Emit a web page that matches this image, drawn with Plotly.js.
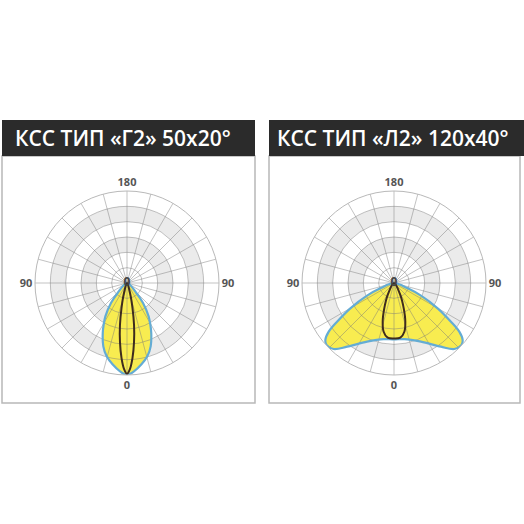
<!DOCTYPE html>
<html>
<head>
<meta charset="utf-8">
<script src="https://cdn.plot.ly/plotly-3.0.1.min.js"></script>
<style>
html,body{margin:0;padding:0;background:#fff;}
#chart{width:524px;height:524px;}
</style>
</head>
<body>
<div id="chart"></div>
<script>
// ---- data ----
var titles = ["КСС ТИП «Г2» 50x20°", "КСС ТИП «Л2» 120x40°"];
var angleTickVals = [0,15,30,45,60,75,90,105,120,135,150,165,180,195,210,225,240,255,270,285,300,315,330,345];
var angleTickText = ["0","","","","","","90","","","","","","180","","","","","","90","","","","",""];
var ringVals = [100,200,300,400,500];
var bandBase = [200,400];
var bandWidth = [100,100];

// Г2: plane C0 (yellow, wide) and C90 (brown, narrow)
var g2WideTheta = [-48,-43,-38.7,-33,-29,-25.9,-20.5,-15.5,-9.9,-4.5,0,4.5,9.9,15.5,20.5,25.9,29,33,38.7,43,48];
var g2WideR     = [0,89,167,259,315,362,441,496,540,578,600,578,540,496,441,362,315,259,167,89,0];
var g2NarrowTheta = [-22,-16.7,-12.4,-9.5,-6.8,-4.2,-2,0,2,4.2,6.8,9.5,12.4,16.7,22];
var g2NarrowR     = [0,68,167,278,387,490,561,593,561,490,387,278,167,68,0];

// Л2: plane C0 (yellow, wide batwing) and C90 (brown, narrow)
var l2WideTheta = [-73,-68.8,-64.8,-59.9,-55.8,-53.3,-50.3,-47.5,-42.4,-36.4,-24.7,-10.4,0,10.4,24.7,36.4,42.4,47.5,50.3,53.3,55.8,59.9,64.8,68.8,73];
var l2WideR     = [0,96,194,329,449,531,582,598,583,516,421,372,368,372,421,516,583,598,582,531,449,329,194,96,0];
var l2NarrowTheta = [-35,-27.8,-21,-16.3,-12,-6.6,0,6.6,12,16.3,21,27.8,35];
var l2NarrowR     = [0,89,177,263,325,359,362,359,325,263,177,89,0];

// ---- helpers (layout only) ----
var W = 524, H = 524;
function px(x){return x/W;}
function py(y){return 1 - y/H;}

var yellowFill = "rgb(248,236,80)";
var blueLine = "rgb(100,172,212)";
var brownLine = "rgb(62,44,30)";
var gridCol = "rgba(120,120,120,0.45)";

function bands(sub){
  return {type:"barpolar", subplot:sub, theta:[0,0], r:bandWidth, base:bandBase, width:[360,360],
    marker:{color:"#ebebeb", line:{width:0}}, hoverinfo:"skip", showlegend:false};
}
function fillTrace(sub, th, r){
  return {type:"scatterpolar", subplot:sub, theta:th, r:r, mode:"lines", fill:"toself",
    fillcolor:yellowFill, line:{width:0, shape:"spline", color:yellowFill}, hoverinfo:"skip", showlegend:false};
}
function lineTrace(sub, th, r, col, w){
  return {type:"scatterpolar", subplot:sub, theta:th, r:r, mode:"lines",
    line:{width:w, shape:"spline", color:col}, hoverinfo:"skip", showlegend:false};
}
function centerText(sub){
  return {type:"scatterpolar", subplot:sub, theta:[0], r:[0], mode:"text", text:["0"],
    textfont:{family:"Open Sans", size:12, color:"#444", weight:700}, textposition:"middle center",
    hoverinfo:"skip", showlegend:false};
}

var traces = [
  bands("polar"),
  fillTrace("polar", g2WideTheta, g2WideR),
  lineTrace("polar2", g2WideTheta, g2WideR, blueLine, 2.2),
  lineTrace("polar2", g2NarrowTheta, g2NarrowR, brownLine, 2),
  centerText("polar2"),
  bands("polar3"),
  fillTrace("polar3", l2WideTheta, l2WideR),
  lineTrace("polar4", l2WideTheta, l2WideR, blueLine, 2.2),
  lineTrace("polar4", l2NarrowTheta, l2NarrowR, brownLine, 2),
  centerText("polar4")
];

function basePolar(cx, cy, R){
  return {
    domain:{x:[px(cx-R), px(cx+R)], y:[py(cy+R), py(cy-R)]},
    bgcolor:"rgba(0,0,0,0)",
    radialaxis:{range:[0,600], showgrid:false, showline:false, showticklabels:false, ticks:""},
    angularaxis:{rotation:-90, direction:"counterclockwise", showgrid:false, showline:false,
      showticklabels:false, ticks:""}
  };
}
function gridPolar(cx, cy, R){
  return {
    domain:{x:[px(cx-R), px(cx+R)], y:[py(cy+R), py(cy-R)]},
    bgcolor:"rgba(0,0,0,0)",
    radialaxis:{range:[0,600], tickvals:ringVals, showgrid:true, gridcolor:gridCol, gridwidth:1,
      showline:false, showticklabels:false, ticks:""},
    angularaxis:{rotation:-90, direction:"counterclockwise", tickmode:"array",
      tickvals:angleTickVals, ticktext:angleTickText, showgrid:true, gridcolor:gridCol, gridwidth:1,
      showline:true, linecolor:"rgb(185,185,185)", linewidth:1, ticks:"",
      tickfont:{family:"Open Sans", size:11, color:"#555", weight:700}}
  };
}

var L = {x:127, y:283}, Rr = {x:394, y:283}, RAD = 92;

var layout = {
  width:W, height:H, margin:{l:0,r:0,t:0,b:0},
  paper_bgcolor:"#fff", showlegend:false,
  polar: basePolar(L.x, L.y, RAD),
  polar2: gridPolar(L.x, L.y, RAD),
  polar3: basePolar(Rr.x, Rr.y, RAD),
  polar4: gridPolar(Rr.x, Rr.y, RAD),
  shapes:[
    {type:"rect", xref:"paper", yref:"paper", x0:px(2), x1:px(255), y0:py(156), y1:py(403),
      line:{color:"#b8b8b8", width:1.5}, fillcolor:"rgba(0,0,0,0)", layer:"below"},
    {type:"rect", xref:"paper", yref:"paper", x0:px(269), x1:px(520), y0:py(156), y1:py(403),
      line:{color:"#b8b8b8", width:1.5}, fillcolor:"rgba(0,0,0,0)", layer:"below"},
    {type:"rect", xref:"paper", yref:"paper", x0:px(2), x1:px(255), y0:py(156), y1:py(120),
      line:{width:0}, fillcolor:"#2b2b2b", layer:"below"},
    {type:"rect", xref:"paper", yref:"paper", x0:px(269), x1:px(524), y0:py(156), y1:py(120),
      line:{width:0}, fillcolor:"#2b2b2b", layer:"below"}
  ],
  annotations:[
    {text:titles[0], xref:"paper", yref:"paper", x:px(13), y:py(138), xanchor:"left", yanchor:"middle",
      showarrow:false, font:{family:"Open Sans", size:21, color:"#fff", weight:600}},
    {text:titles[1], xref:"paper", yref:"paper", x:px(275), y:py(138), xanchor:"left", yanchor:"middle",
      showarrow:false, font:{family:"Open Sans", size:21, color:"#fff", weight:600}}
  ]
};

Plotly.newPlot("chart", traces, layout, {staticPlot:true, displayModeBar:false});
</script>
</body>
</html>
